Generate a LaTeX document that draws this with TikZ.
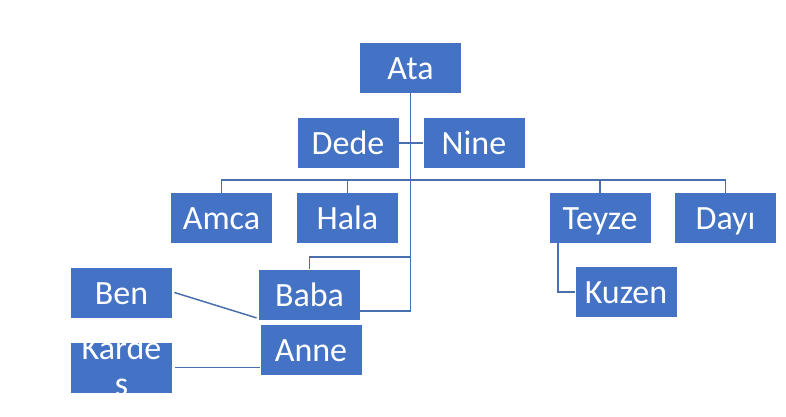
\documentclass[tikz,border=0pt]{standalone}
\usepackage{fontspec}
\setmainfont{Carlito}
\usetikzlibrary{calc}
\definecolor{boxblue}{HTML}{4472C4}
\definecolor{linkblue}{HTML}{4A6FAF}
\tikzset{
  person/.style={fill=boxblue, draw=none, text=white, minimum width=50.5pt, minimum height=25pt, inner sep=0pt, text height=11.8pt, text depth=0pt, font=\fontsize{17}{18}\selectfont},
  link/.style={draw=linkblue, line width=0.75pt}
}
\begin{document}
\begin{tikzpicture}[x=0.5pt,y=-0.5pt]
\useasboundingbox (0,0) rectangle (786,417);
\node[person] (Ata) at (410.5,68) {Ata};
\node[person] (Dede) at (348,143) {Dede};
\node[person] (Nine) at (474,143) {Nine};
\node[person] (Amca) at (221.5,218) {Amca};
\node[person] (Hala) at (347.5,218) {Hala};
\node[person] (Teyze) at (600,218) {Teyze};
\node[person] (Dayi) at (725.5,218) {Dayı};
\node[person] (Kuzen) at (626,292) {Kuzen};
\node[person] (Baba) at (309.5,294.5) {Baba};
\node[person] (Anne) at (311,349.5) {Anne};
\node[person] (Ben) at (121.5,292.5) {Ben};
\node[person] (Kardes) at (121.5,367.5) {};
\begin{scope}
\clip (Kardes.south west) rectangle (Kardes.north east);
\node[text=white, font=\fontsize{17}{18}\selectfont, align=center, inner sep=0pt] at (121.5,369) {Karde\\ş};
\end{scope}
\coordinate (bus) at (0,180);
\coordinate (babatop) at (0,257);
\draw[link] (Ata.south) |- ($(Baba.east)+(0,16.5)$);
\draw[link] (Dede.east) -- (Nine.west);
\draw[link] (Amca.north) |- (bus -| Dayi.north) -- (Dayi.north);
\draw[link] (Hala.north) -- (Hala.north |- bus);
\draw[link] (Teyze.north) -- (Teyze.north |- bus);
\draw[link] (Baba.north) |- (Ata.south |- babatop);
\draw[link] ($(Teyze.south)+(-42,0)$) |- (Kuzen.west);
\draw[link] ($(Ben.east)+(2,0)$) -- ($(Baba.south west)+(-2,-2)$);
\draw[link] ($(Kardes.east)+(3,0)$) -- (Anne.west |- Kardes.east);
\end{tikzpicture}
\end{document}
